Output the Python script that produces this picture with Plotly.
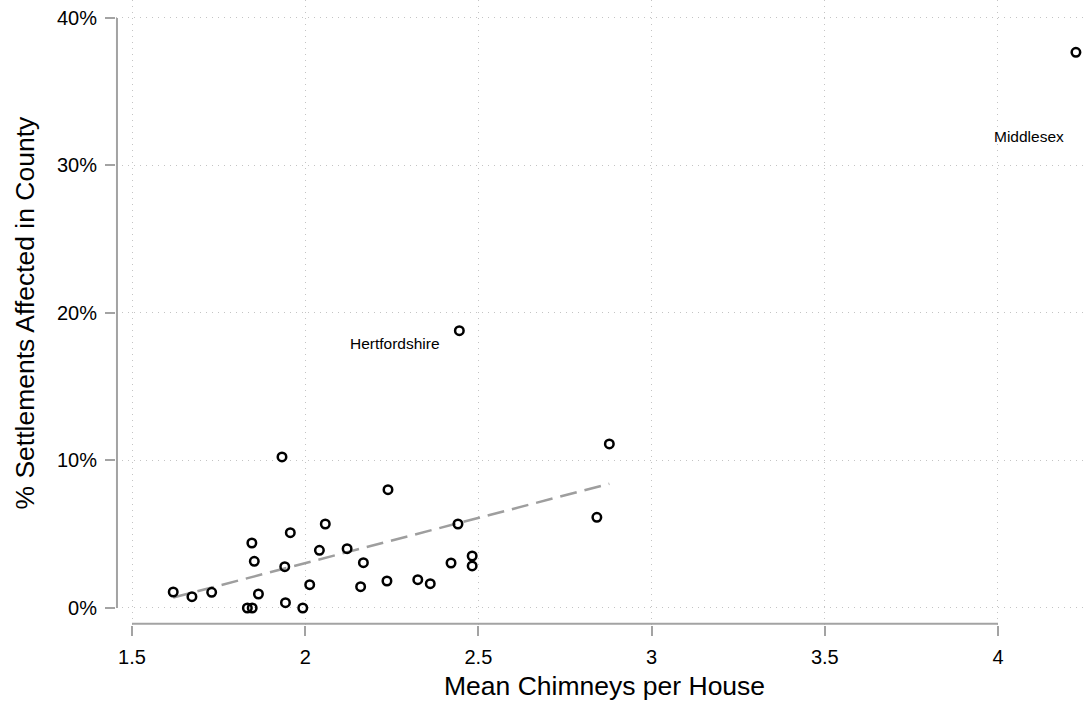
import numpy as np
import plotly.graph_objects as go

# Mean chimneys per house and share of settlements affected (%) by county
chimneys = [1.619, 1.673, 1.730, 1.833, 1.847, 1.865, 1.846, 1.853, 1.933, 1.957,
            1.941, 1.943, 1.993, 2.013, 2.058, 2.041, 2.121, 2.168, 2.160, 2.239,
            2.236, 2.325, 2.361, 2.421, 2.441, 2.482, 2.482, 2.842, 2.878,
            2.445, 4.225]
pct_affected = [1.085, 0.766, 1.064, 0.0, 0.0, 0.949, 4.407, 3.166, 10.24, 5.105,
                2.80, 0.359, 0.0, 1.58, 5.695, 3.91, 4.02, 3.07, 1.444, 8.02,
                1.83, 1.92, 1.65, 3.05, 5.695, 3.525, 2.85, 6.15, 11.12,
                18.80, 37.67]
county = [""] * 29 + ["Hertfordshire", "Middlesex"]

x_ticks = [1.5, 2, 2.5, 3, 3.5, 4]
x_tick_text = ["1.5", "2", "2.5", "3", "3.5", "4"]
y_ticks = [0, 10, 20, 30, 40]
y_tick_text = ["0%", "10%", "20%", "30%", "40%"]

# Linear fit over all counties except Middlesex
fit_mask = np.array(county) != "Middlesex"
xs = np.array(chimneys)[fit_mask]
ys = np.array(pct_affected)[fit_mask]
slope, intercept = np.polyfit(xs, ys, 1)
fit_x = np.array([xs.min(), xs.max()])
fit_y = intercept + slope * fit_x

FONT = "Liberation Sans, Arial, Helvetica, sans-serif"
AXIS_GREY = "#a3a3a3"
GRID_GREY = "#c4c4c4"

fig = go.Figure()
fig.add_trace(go.Scatter(
    x=fit_x, y=fit_y, mode="lines",
    line=dict(color="#9e9e9e", width=2.5, dash="17px,8px"),
    hoverinfo="skip", showlegend=False,
))
fig.add_trace(go.Scatter(
    x=chimneys, y=pct_affected, mode="markers",
    marker=dict(symbol="circle-open", size=8.5, color="black",
                line=dict(color="black", width=2.5)),
    showlegend=False,
))

# County labels placed beside their points
label_offsets = {"Hertfordshire": (-17, -13), "Middlesex": (-10, -84)}
for name, (dx, dy) in label_offsets.items():
    i = county.index(name)
    fig.add_annotation(
        x=chimneys[i], y=pct_affected[i], text=name, showarrow=False,
        xanchor="right", yanchor="middle", xshift=dx, yshift=dy,
        font=dict(family=FONT, size=15.5, color="black"),
    )

# Axis titles
fig.add_annotation(
    x=0.504, y=0, xref="paper", yref="paper", text="Mean Chimneys per House",
    showarrow=False, xanchor="center", yanchor="middle", yshift=-61,
    font=dict(family=FONT, size=26.5, color="black"),
)
fig.add_annotation(
    x=0, y=0.5, xref="paper", yref="paper", text="% Settlements Affected in County",
    showarrow=False, textangle=-90, xanchor="center", yanchor="middle", xshift=-92,
    font=dict(family=FONT, size=26.5, color="black"),
)

# Axis lines spanning only the labelled range
fig.add_shape(type="line", xref="x", yref="paper",
              x0=x_ticks[0], x1=x_ticks[-1], y0=0.002, y1=0.002,
              line=dict(color=AXIS_GREY, width=2))
fig.add_shape(type="line", xref="paper", yref="y",
              x0=0.001, x1=0.001, y0=y_ticks[0], y1=y_ticks[-1],
              line=dict(color=AXIS_GREY, width=2))

fig.update_xaxes(
    range=[1.4538, 4.2512], tickvals=x_ticks, ticktext=x_tick_text,
    ticks="outside", ticklen=10, tickwidth=2, tickcolor=AXIS_GREY,
    showline=False, zeroline=False,
    showgrid=True, gridcolor=GRID_GREY, gridwidth=1, griddash="1px,5px",
    tickfont=dict(family=FONT, size=20, color="black"), ticklabelstandoff=4,
)
fig.update_yaxes(
    range=[-1.153, 41.22], tickvals=y_ticks, ticktext=y_tick_text,
    ticks="outside", ticklen=10, tickwidth=2, tickcolor=AXIS_GREY,
    showline=False, zeroline=False,
    showgrid=True, gridcolor=GRID_GREY, gridwidth=1, griddash="1px,5px",
    tickfont=dict(family=FONT, size=20, color="black"), ticklabelstandoff=4,
)

fig.update_layout(
    width=1085, height=702,
    margin=dict(l=116, r=0, t=0, b=77),
    plot_bgcolor="white", paper_bgcolor="white",
    font=dict(family=FONT),
)

fig.write_html("out.html")
